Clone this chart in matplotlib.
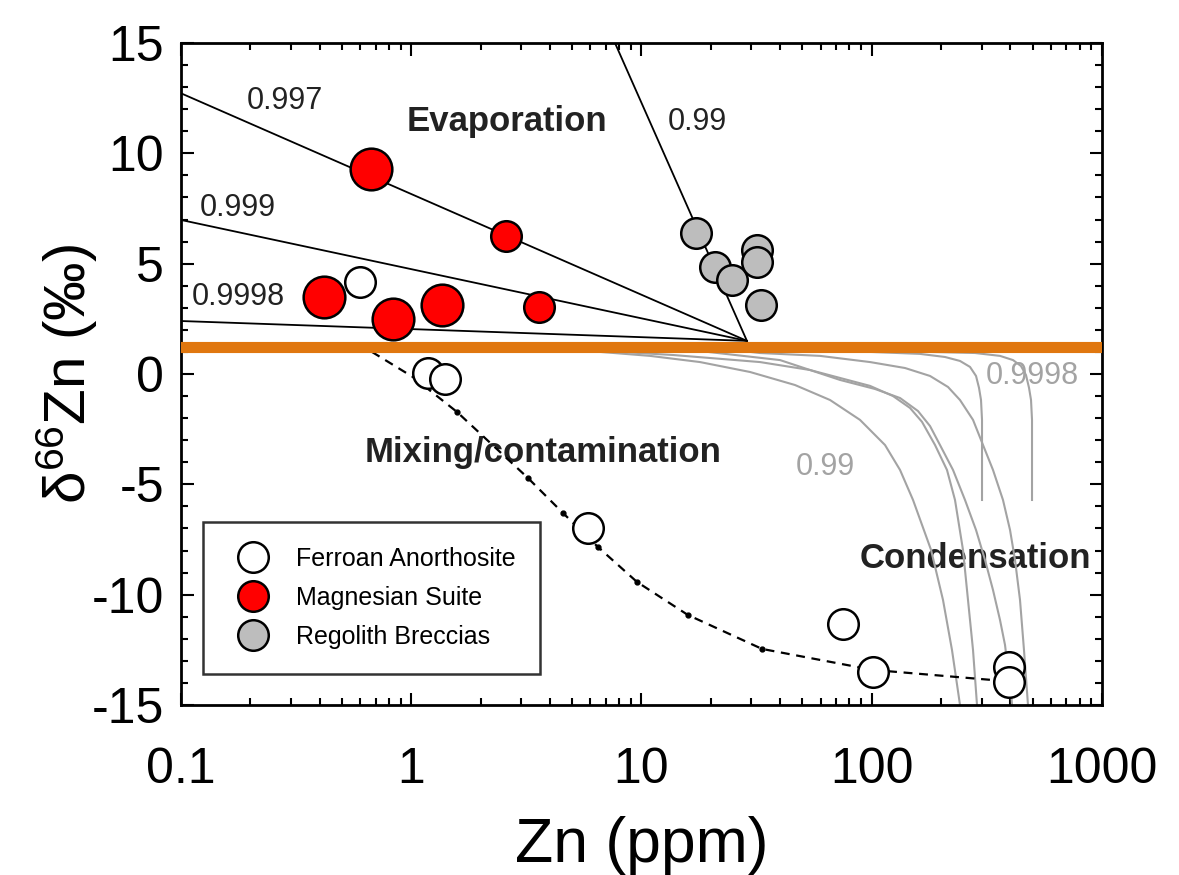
import matplotlib
matplotlib.use("Agg")
import matplotlib.pyplot as plt

plt.rcParams['font.family'] = ['Liberation Sans', 'DejaVu Sans']
plt.rcParams['mathtext.fontset'] = 'custom'
plt.rcParams['mathtext.rm'] = 'Liberation Sans'
plt.rcParams['axes.unicode_minus'] = False

# Ferroan anorthosites
fan_x = [0.599, 1.18, 1.40, 5.86, 75.0, 101, 395, 395]
fan_y = [4.18, 0.05, -0.23, -6.98, -11.33, -13.5, -13.3, -13.95]

# Magnesian suite (large and small symbols)
mg_big_x = [0.667, 0.418, 0.831, 1.356]
mg_big_y = [9.29, 3.50, 2.48, 3.13]
mg_small_x = [2.58, 3.60]
mg_small_y = [6.25, 3.05]

# Regolith breccias
rb_x = [17.25, 20.8, 24.7, 31.6, 31.7, 33.0]
rb_y = [6.37, 4.86, 4.26, 5.62, 5.09, 3.13]

# Evaporation lines: common start point and end point for each alpha
evap_alpha = ['0.997', '0.999', '0.9998', '0.99']
evap_x0 = 28.7
evap_y0 = 1.5
evap_x1 = [0.1, 0.1, 0.1, 7.67]
evap_y1 = [12.72, 6.98, 2.40, 15.0]

# bulk silicate reference value
bse_value = 1.2

# mixing / contamination curve
mix_x = [0.675, 1.018, 1.58, 3.21, 4.56, 6.47, 9.55, 15.9, 33.4, 101, 336]
mix_y = [1.0, -0.14, -1.72, -4.71, -6.30, -7.84, -9.42, -10.92, -12.46, -13.41, -13.87]
mix_dot_x = [1.58, 3.21, 4.56, 6.47, 9.55, 15.9, 33.4]
mix_dot_y = [-1.72, -4.71, -6.30, -7.84, -9.42, -10.92, -12.46]

# condensation curves
cond_a_x = [3.0, 6.60, 10.89, 17.95, 29.6, 46.4, 65.9, 88.9, 114.2, 132.7, 151.1, 180.9, 203.9, 223.1, 241.7]
cond_a_y = [1.2, 1.0, 0.82, 0.54, 0.09, -0.50, -1.18, -2.08, -3.22, -4.35, -5.71, -7.97, -10.24, -12.51, -15.0]
cond_b_x = [5.0, 8.07, 13.70, 32.7, 53.9, 72.8, 98.3, 123.7, 146.6, 165.3, 188.3, 212.2, 229.9, 249.0,
            261.8, 275.3, 286.5]
cond_b_y = [1.2, 1.0, 0.86, 0.54, 0.18, -0.18, -0.54, -1.0, -1.54, -2.17, -3.22, -4.35, -5.71, -7.97,
            -10.24, -12.51, -15.0]
cond_c_x = [10.0, 17.95, 39.96, 72.8, 103.3, 132.7, 158.8, 179.1, 197.9, 225.4, 254.1, 283.7, 310.4,
            336.2, 360.6, 379.1, 390.7, 402.6, 406.6]
cond_c_y = [1.2, 1.04, 0.63, -0.27, -0.68, -1.09, -1.68, -2.36, -3.22, -4.35, -5.71, -7.07, -8.43,
            -9.79, -11.15, -12.28, -13.41, -14.32, -15.0]
cond_d_x = [20.0, 32.7, 59.6, 98.3, 139.5, 179.1, 214.4, 241.7, 275.3, 304.3, 336.2, 371.5, 398.6,
            419.0, 440.4, 458.3, 477.0]
cond_d_y = [1.2, 0.95, 0.82, 0.54, 0.27, -0.09, -0.59, -1.18, -2.08, -3.22, -4.35, -5.71, -7.07,
            -8.43, -10.24, -12.51, -15.0]
cond_e_x = [60.0, 98.3, 162.0, 208.0, 241.7, 267.1, 283.7, 292.3, 298.2, 301.2, 301.2]
cond_e_y = [1.2, 1.0, 0.91, 0.77, 0.59, 0.32, -0.09, -0.63, -1.18, -2.08, -5.71]
cond_f_x = [120.0, 179.1, 280.8, 360.6, 410.7, 444.8, 467.6, 482.0, 491.7, 496.6, 496.6]
cond_f_y = [1.2, 1.0, 0.95, 0.82, 0.63, 0.36, -0.05, -0.63, -1.18, -2.08, -5.71]

fig = plt.figure(figsize=(11.79, 8.75), dpi=100)
ax = fig.add_axes([0.1535, 0.1943, 0.7812, 0.7566])
ax.set_xscale('log')
ax.set_xlim(0.1, 1000)
ax.set_ylim(-15, 15)

grey = '#a3a3a3'
for cx, cy in [(cond_a_x, cond_a_y), (cond_b_x, cond_b_y), (cond_c_x, cond_c_y),
               (cond_d_x, cond_d_y), (cond_e_x, cond_e_y), (cond_f_x, cond_f_y)]:
    ax.plot(cx, cy, color=grey, lw=1.5, zorder=2, solid_joinstyle='round')

for xe, ye in zip(evap_x1, evap_y1):
    ax.plot([evap_x0, xe], [evap_y0, ye], color='black', lw=1.3, zorder=3)

ax.axhline(bse_value, color='#e0770f', lw=8, zorder=4)

ax.plot(mix_x, mix_y, color='black', lw=1.6, ls=(0, (4, 3)), zorder=3)
ax.plot(mix_dot_x, mix_dot_y, 'o', color='black', ms=3.5, zorder=3)

ax.plot(fan_x, fan_y, 'o', ms=22, mfc='white', mec='black', mew=1.8, ls='none', zorder=5)
ax.plot(mg_big_x, mg_big_y, 'o', ms=30, mfc='#ff0000', mec='black', mew=1.8, ls='none', zorder=5)
ax.plot(mg_small_x, mg_small_y, 'o', ms=22, mfc='#ff0000', mec='black', mew=1.8, ls='none', zorder=5)
ax.plot(rb_x, rb_y, 'o', ms=22, mfc='#bdbdbd', mec='black', mew=1.8, ls='none', zorder=5)

# legend handles
h1, = ax.plot([], [], 'o', ms=22, mfc='white', mec='black', mew=1.8, ls='none')
h2, = ax.plot([], [], 'o', ms=22, mfc='#ff0000', mec='black', mew=1.8, ls='none')
h3, = ax.plot([], [], 'o', ms=22, mfc='#bdbdbd', mec='black', mew=1.8, ls='none')
leg = ax.legend([h1, h2, h3], ['Ferroan Anorthosite', 'Magnesian Suite', 'Regolith Breccias'],
                loc='lower left', bbox_to_anchor=(0.024, 0.047), fontsize=18,
                frameon=True, fancybox=False, edgecolor='black', borderpad=1.0,
                labelspacing=0.6, handletextpad=0.7, borderaxespad=0)
leg.get_frame().set_linewidth(1.8)
leg.set_zorder(6)

# annotations
lab = dict(fontsize=22, ha='center', va='center', color='#222222', zorder=6)
ax.text(0.283, 12.37, '0.997', **lab)
ax.text(0.1768, 7.54, '0.999', **lab)
ax.text(0.1768, 3.47, '0.9998', **lab)
ax.text(17.4, 11.42, '0.99', **lab)
glab = dict(fontsize=22, ha='center', va='center', color='#a3a3a3', zorder=1)
ax.text(63.2, -4.21, '0.99', **glab)
ax.text(496, -0.11, '0.9998', **glab)
blab = dict(fontsize=25, ha='center', va='center', fontweight='bold', color='#222222', zorder=1)
ax.text(2.61, 11.42, 'Evaporation', **blab)
ax.text(3.73, -3.58, 'Mixing/contamination', **blab)
ax.text(281, -8.34, 'Condensation', **blab)

ax.set_xticks([0.1, 1, 10, 100, 1000])
ax.set_xticklabels(['0.1', '1', '10', '100', '1000'])
ax.set_yticks([-15, -10, -5, 0, 5, 10, 15])
ax.set_yticks(range(-15, 16), minor=True)
ax.tick_params(which='both', direction='in', top=True, right=True, labelsize=36, width=1.5)
ax.tick_params(which='major', length=9)
ax.tick_params(axis='x', which='major', pad=30)
ax.tick_params(axis='y', which='major', pad=12)
ax.tick_params(which='minor', length=5)
for s in ax.spines.values():
    s.set_linewidth(2)

ax.set_xlabel('Zn (ppm)', fontsize=45, labelpad=17)
ax.set_ylabel(r'$\mathregular{\delta^{66}}$Zn (‰)', fontsize=42)
ax.yaxis.set_label_coords(-0.088, 0.5)

fig.savefig('out.png', dpi=100)
